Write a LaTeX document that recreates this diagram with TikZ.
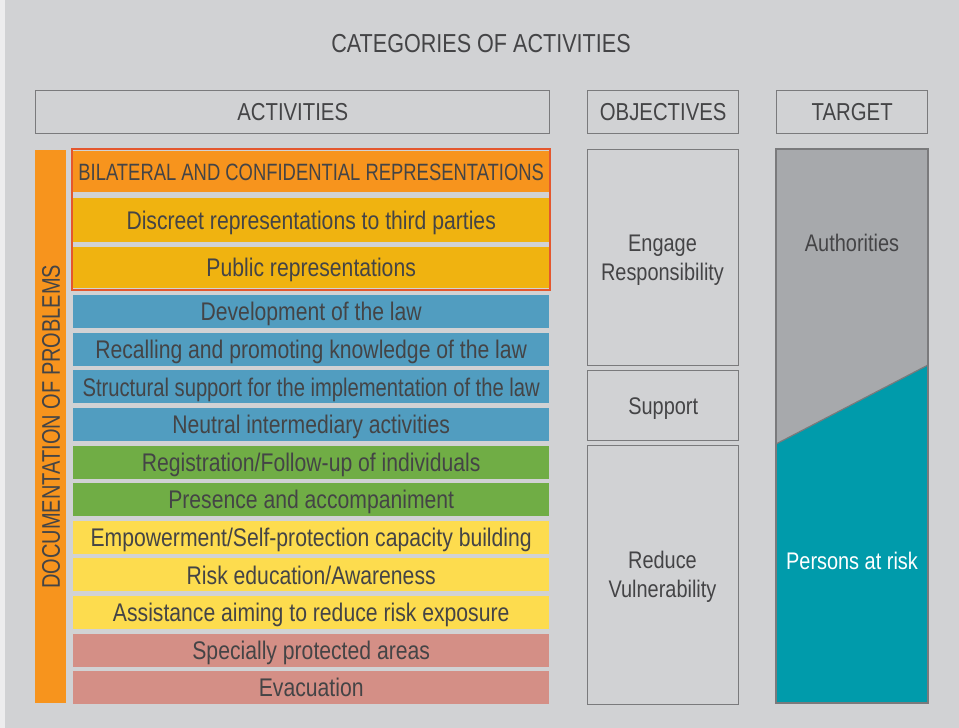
\documentclass[tikz,border=0pt]{standalone}
\usepackage{fontspec}
\usepackage{graphicx}
\setmainfont{Liberation Sans}[FakeStretch=0.83]
\definecolor{bg}{HTML}{D1D2D4}
\definecolor{txt}{HTML}{444446}
\definecolor{outl}{HTML}{7A7A7C}
\definecolor{corange}{HTML}{F7941D}
\definecolor{cgold}{HTML}{F0B310}
\definecolor{cblue}{HTML}{519DC0}
\definecolor{cgreen}{HTML}{70AD45}
\definecolor{cyellow}{HTML}{FDDC4E}
\definecolor{crose}{HTML}{D48F86}
\definecolor{cred}{HTML}{E4572E}
\definecolor{cgray}{HTML}{A7A9AC}
\definecolor{cteal}{HTML}{009BAB}
\newcommand\myrowfont{\fontsize{25.5}{29}\selectfont}
\newcommand\mycapsfont{\fontsize{23.6}{27}\selectfont}
\newcommand\myobjfont{\fontsize{24}{29.5}\selectfont}
\newcommand\myheadfont{\fontsize{24.5}{29}\selectfont}
\newcommand\mytitlefont{\fontsize{26}{30}\selectfont}
\tikzset{
  row/.style={inner sep=0pt, minimum width=476pt, minimum height=33pt, anchor=north west,
    text height=18.2pt, text depth=0pt, font=\myrowfont, text=txt},
  headbox/.style={draw=outl, line width=1.4pt, inner sep=0pt, anchor=north west,
    minimum height=43pt, text height=17.5pt, text depth=0pt, font=\myheadfont, text=txt},
  objbox/.style={draw=outl, line width=1.4pt, inner sep=0pt, anchor=north west,
    minimum width=151pt},
  lbl/.style={inner sep=0pt, font=\myobjfont, text=txt, align=center}
}
\begin{document}
\begin{tikzpicture}[x=1pt,y=-1pt]
\useasboundingbox (0,0) rectangle (959,728);
\fill[white!60!bg] (0,0) rectangle (959,728);
\fill[bg] (5,0) rectangle (959,728);
% title
\node[lbl, font=\mytitlefont, text height=18.6pt, text depth=0pt] (title) at (481,43) {CATEGORIES OF ACTIVITIES};
% headers
\node[headbox, minimum width=514pt] (hact) at (35,90) {ACTIVITIES};
\node[headbox, minimum width=151pt] (hobj) at (587,90) {OBJECTIVES};
\node[headbox, minimum width=151pt] (htar) at (776,90) {TARGET};
% documentation bar
\node[fill=corange, inner sep=0pt, minimum width=31pt, minimum height=553pt, anchor=north west] (docbar) at (35,150) {};
\node[lbl, font=\myrowfont, rotate=90, text height=18.2pt, text depth=0pt] (doc) at (docbar.center) {\scalebox{0.945}[1]{DOCUMENTATION OF PROBLEMS}};
% representation rows
\node[row, fill=corange, minimum height=41pt, font=\mycapsfont, text height=16.9pt] (r1) at (73,151) {\scalebox{0.94}[1]{BILATERAL AND CONFIDENTIAL REPRESENTATIONS}};
\node[row, fill=cgold, minimum height=44pt] (r2) at (73,198) {Discreet representations to third parties};
\node[row, fill=cgold, minimum height=41pt] (r3) at (73,247) {Public representations};
\draw[cred, line width=2pt] (72,149) rectangle (550,290);
% other rows
\node[row, fill=cblue] (r4) at (73,295) {Development of the law};
\node[row, fill=cblue] (r5) at (73,332.6) {Recalling and promoting knowledge of the law};
\node[row, fill=cblue] (r6) at (73,370.2) {\scalebox{0.955}[1]{Structural support for the implementation of the law}};
\node[row, fill=cblue] (r7) at (73,407.8) {Neutral intermediary activities};
\node[row, fill=cgreen] (r8) at (73,445.4) {Registration/Follow-up of individuals};
\node[row, fill=cgreen] (r9) at (73,483) {Presence and accompaniment};
\node[row, fill=cyellow] (r10) at (73,520.6) {Empowerment/Self-protection capacity building};
\node[row, fill=cyellow] (r11) at (73,558.2) {Risk education/Awareness};
\node[row, fill=cyellow] (r12) at (73,595.8) {Assistance aiming to reduce risk exposure};
\node[row, fill=crose] (r13) at (73,633.4) {Specially protected areas};
\node[row, fill=crose] (r14) at (73,671) {Evacuation};
% objectives
\node[objbox, minimum height=216pt] (o1) at (587,149) {};
\node[lbl] (o1t) at (662.5,260) {Engage\\Responsibility};
\node[objbox, minimum height=70pt] (o2) at (587,370) {};
\node[lbl, text height=17.2pt, text depth=0pt] (o2t) at (o2.center) {Support};
\node[objbox, minimum height=259pt] (o3) at (587,445) {};
\node[lbl] (o3t) at (662.5,577) {Reduce\\Vulnerability};
% target
\coordinate (tl) at (776,149);
\coordinate (tr) at (928,149);
\coordinate (br) at (928,703);
\coordinate (bl) at (776,703);
\coordinate (dl) at (776,444);
\coordinate (dr) at (928,365);
\fill[cgray] (tl) -- (tr) -- (dr) -- (dl) -- cycle;
\fill[cteal] (dl) -- (dr) -- (br) -- (bl) -- cycle;
\draw[outl, line width=1.2pt] (dl) -- (dr);
\draw[outl, line width=1.4pt] (tl) -- (tr) -- (br) -- (bl) -- cycle;
\node[lbl, text height=17.2pt, text depth=0pt] (auth) at (852,243) {Authorities};
\node[lbl, text=white, text height=17.2pt, text depth=0pt] (pers) at (852,561) {Persons at risk};
\end{tikzpicture}
\end{document}
